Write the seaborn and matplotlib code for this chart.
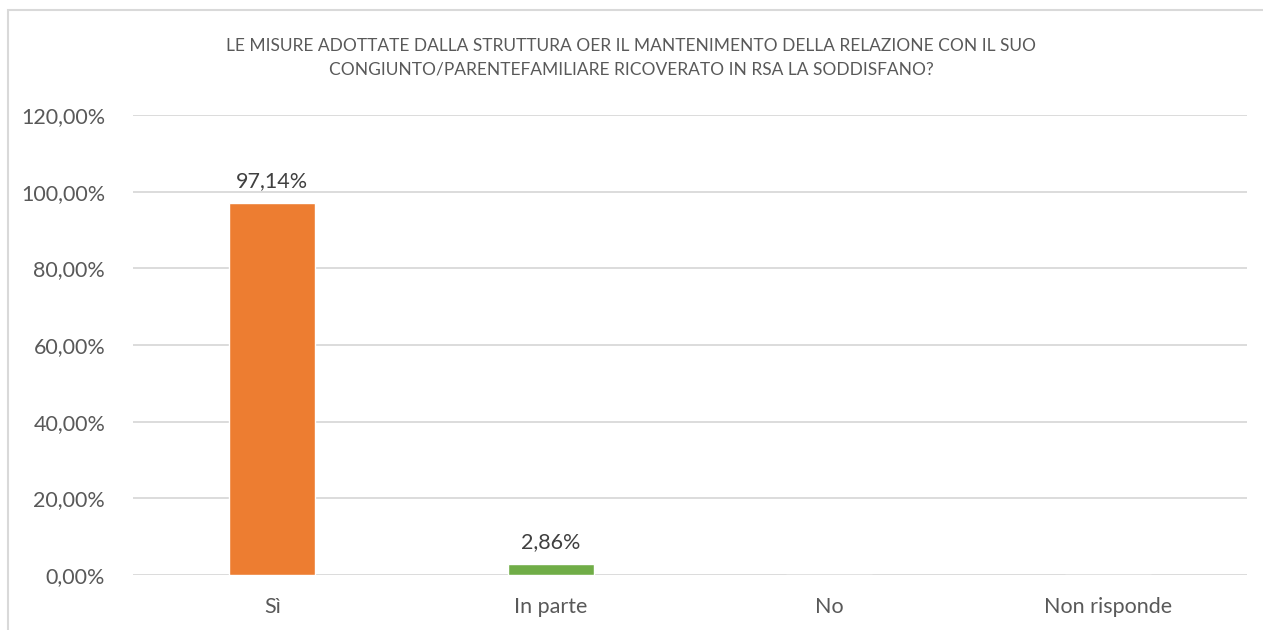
import pandas as pd
import seaborn as sns
import matplotlib.pyplot as plt
from matplotlib.patches import Rectangle
from matplotlib.ticker import FuncFormatter

# Data
categorie = ['Sì', 'In parte', 'No', 'Non risponde']
percentuali = [97.14, 2.86, 0.0, 0.0]
colori = ['#ED7D31', '#70AD47', '#A5A5A5', '#FFC000']
titolo = ('LE MISURE ADOTTATE DALLA STRUTTURA OER IL MANTENIMENTO DELLA RELAZIONE CON IL SUO\n'
          'CONGIUNTO/PARENTEFAMILIARE RICOVERATO IN RSA LA SODDISFANO?')

df = pd.DataFrame({'categoria': categorie, 'valore': percentuali})

sns.set_theme(style='white')
plt.rcParams['font.family'] = ['Lato', 'DejaVu Sans']

fig = plt.figure(figsize=(12.63, 6.30), dpi=100)
ax = fig.add_axes([133 / 1263, 1 - 575 / 630, 1114 / 1263, 460 / 630])

sns.barplot(data=df, x='categoria', y='valore', hue='categoria', palette=colori,
            width=0.31, legend=False, ax=ax, saturation=1)

ax.set_ylim(0, 120)
ax.set_yticks(range(0, 121, 20))
ax.yaxis.set_major_formatter(FuncFormatter(lambda v, p: f'{v:.2f}'.replace('.', ',') + '%'))
ax.grid(axis='y', color='#D9D9D9', linewidth=1.3)
ax.set_axisbelow(True)
for s in ax.spines.values():
    s.set_visible(False)
ax.tick_params(axis='both', length=0, labelsize=15.5, labelcolor='#595959')
ax.tick_params(axis='y', pad=20)
ax.tick_params(axis='x', pad=16)
ax.set_xlabel('')
ax.set_ylabel('')

# value labels on non-zero bars
for i, v in enumerate(percentuali):
    if v > 0:
        ax.text(i, v + 3, f'{v:.2f}'.replace('.', ',') + '%', ha='center', va='bottom',
                fontsize=15.5, color='#404040')

fig.text(0.5, 1 - 58 / 630, titolo, ha='center', va='center', fontsize=12.5,
         color='#595959', linespacing=1.6)

# chart border
fig.patches.append(Rectangle((8 / 1263, -0.1), 1.2, 1 - 10 / 630 + 0.1,
                             transform=fig.transFigure, fill=False,
                             edgecolor='#D9D9D9', linewidth=1.5))

fig.savefig('out.png', dpi=100)
